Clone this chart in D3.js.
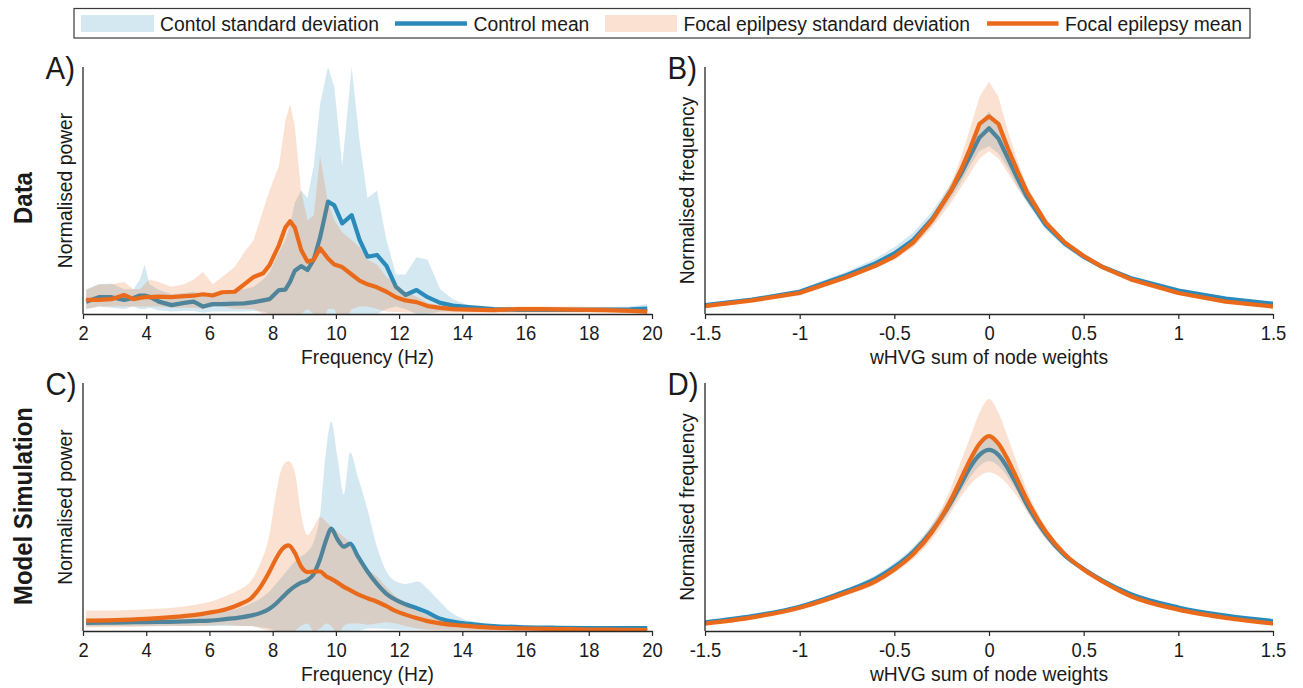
<!DOCTYPE html>
<html>
<head>
<meta charset="utf-8">
<script src="https://cdn.jsdelivr.net/npm/d3@7"></script>
<style>
    body { margin: 0; background: #fff; }
    text { font-family: 'Liberation Sans', Arial, sans-serif; fill: #1a1a1a; }
</style>
</head>
<body>
<div id="chart"></div>
<script>
// legend entries
const LEGEND_LABELS = [
    'Contol standard deviation',
    'Control mean',
    'Focal epilpesy standard deviation',
    'Focal epilepsy mean'
];

// x tick values
const FREQ_TICKS = [2, 4, 6, 8, 10, 12, 14, 16, 18, 20];
const WHVG_TICKS = [-1.5, -1, -0.5, 0, 0.5, 1, 1.5];

// A) data spectra
const FREQ_A = [2.1, 2.5, 2.9, 3.3, 3.6, 3.8, 3.95, 4.1, 4.4, 4.8, 5.2, 5.5, 5.8, 6.1, 6.4, 6.8, 7.1, 7.4, 7.7, 7.9,
    8.2, 8.4, 8.55, 8.7, 8.9, 9.1, 9.3, 9.5, 9.75, 9.95, 10.2, 10.5, 10.75, 11.0, 11.3, 11.6, 11.9, 12.2, 12.55, 12.9,
    13.3, 13.7, 14.2, 15, 15.8, 16.5, 17.5, 18.5, 19.3, 19.85];
const CTRL_MEAN_A = [0.05, 0.068, 0.068, 0.057, 0.065, 0.075, 0.075, 0.07, 0.05, 0.036, 0.045, 0.05, 0.03, 0.04, 0.04, 0.042, 0.043, 0.048, 0.055, 0.06,
    0.097, 0.099, 0.13, 0.175, 0.194, 0.178, 0.22, 0.31, 0.455, 0.44, 0.367, 0.4, 0.3, 0.232, 0.239, 0.195, 0.11, 0.077, 0.097, 0.068,
    0.045, 0.034, 0.028, 0.02, 0.017, 0.017, 0.017, 0.018, 0.019, 0.022];
const CTRL_HI_A = [0.1, 0.12, 0.123, 0.1, 0.1, 0.14, 0.2, 0.12, 0.097, 0.08, 0.085, 0.09, 0.08, 0.085, 0.09, 0.095, 0.1, 0.11, 0.14, 0.17,
    0.25, 0.3, 0.36, 0.45, 0.5, 0.47, 0.6, 0.85, 1.0, 0.92, 0.6, 1.0, 0.7, 0.47, 0.5, 0.3, 0.16, 0.16, 0.23, 0.22,
    0.1, 0.06, 0.035, 0.025, 0.025, 0.025, 0.025, 0.028, 0.03, 0.04];
const CTRL_LO_A = [0.02, 0.03, 0.025, 0.02, 0.03, 0.02, 0.02, 0.025, 0.015, 0.01, 0.012, 0.012, 0.005, 0.01, 0.01, 0.01, 0.01, 0.012, 0.01, 0.0,
    0.0, -0.02, -0.03, -0.05, -0.08, -0.05, -0.08, -0.1, -0.08, -0.05, 0.0, -0.05, 0.0, 0.0, 0.0, 0.02, 0.03, 0.02, 0.0, 0.0,
    0.01, 0.01, 0.01, 0.008, 0.008, 0.008, 0.008, 0.008, 0.008, 0.008];
const FOC_MEAN_A = [0.057, 0.057, 0.06, 0.077, 0.06, 0.065, 0.068, 0.068, 0.07, 0.068, 0.072, 0.074, 0.08, 0.075, 0.088, 0.09, 0.12, 0.15, 0.165, 0.198,
    0.279, 0.35, 0.376, 0.35, 0.26, 0.212, 0.22, 0.266, 0.225, 0.2, 0.19, 0.16, 0.135, 0.12, 0.108, 0.09, 0.068, 0.055, 0.048, 0.032,
    0.025, 0.02, 0.018, 0.016, 0.02, 0.02, 0.018, 0.016, 0.013, 0.01];
const FOC_HI_A = [0.097, 0.12, 0.12, 0.13, 0.1, 0.1, 0.12, 0.14, 0.13, 0.11, 0.12, 0.14, 0.17, 0.12, 0.15, 0.19, 0.25, 0.3, 0.42, 0.5,
    0.6, 0.78, 0.85, 0.76, 0.5, 0.38, 0.4, 0.64, 0.45, 0.38, 0.33, 0.3, 0.27, 0.22, 0.2, 0.15, 0.12, 0.09, 0.07, 0.045,
    0.035, 0.03, 0.025, 0.025, 0.03, 0.03, 0.03, 0.028, 0.022, 0.018];
const FOC_LO_A = [0.02, 0.03, 0.03, 0.03, 0.03, 0.03, 0.03, 0.03, 0.03, 0.025, 0.025, 0.025, 0.02, 0.03, 0.03, 0.02, 0.02, 0.02, 0.0, 0.0,
    -0.03, -0.05, -0.06, -0.03, 0.0, 0.02, 0.0, -0.05, 0.02, 0.02, -0.05, 0.02, 0.03, 0.03, 0.02, 0.01, 0.008, 0.006, 0.005, 0.005,
    0.005, 0.005, 0.005, 0.005, 0.005, 0.005, 0.005, 0.005, 0.005, 0.005];

// C) model spectra
const FREQ_C = [2.1, 3, 4, 5, 5.5, 6, 6.5, 7, 7.3, 7.6, 7.9, 8.1, 8.3, 8.5, 8.7, 8.9, 9.1, 9.3, 9.5, 9.7, 9.85,
    10.05, 10.25, 10.45, 10.7, 11.0, 11.3, 11.6, 11.9, 12.2, 12.6, 12.9, 13.2, 13.6, 14, 14.5, 15, 16, 17, 18, 19, 19.85];
const CTRL_MEAN_C = [0.033, 0.034, 0.036, 0.038, 0.04, 0.042, 0.048, 0.055, 0.062, 0.072, 0.09, 0.11, 0.135, 0.16, 0.18, 0.195, 0.205, 0.23, 0.29, 0.37, 0.413,
    0.37, 0.34, 0.352, 0.3, 0.24, 0.19, 0.15, 0.125, 0.108, 0.09, 0.075, 0.055, 0.04, 0.032, 0.025, 0.02, 0.015, 0.013, 0.012, 0.012, 0.012];
const CTRL_HI_C = [0.05, 0.052, 0.055, 0.06, 0.065, 0.07, 0.08, 0.095, 0.11, 0.13, 0.16, 0.19, 0.22, 0.25, 0.28, 0.3, 0.32, 0.36, 0.47, 0.74, 0.845,
    0.7, 0.55, 0.72, 0.62, 0.49, 0.34, 0.24, 0.2, 0.19, 0.2, 0.17, 0.13, 0.08, 0.05, 0.035, 0.025, 0.02, 0.018, 0.016, 0.016, 0.016];
const CTRL_LO_C = [0.018, 0.02, 0.02, 0.02, 0.02, 0.02, 0.02, 0.02, 0.02, 0.015, 0.01, 0.0, -0.01, -0.02, -0.05, -0.06, -0.02, -0.03, 0.0, -0.02, -0.03,
    0.0, -0.02, 0.0, 0.0, 0.01, 0.01, 0.008, 0.006, 0.005, 0.005, 0.005, 0.005, 0.005, 0.005, 0.005, 0.005, 0.005, 0.005, 0.005, 0.005, 0.005];
const FOC_MEAN_C = [0.042, 0.044, 0.049, 0.058, 0.064, 0.074, 0.087, 0.11, 0.13, 0.175, 0.24, 0.29, 0.33, 0.345, 0.315, 0.26, 0.238, 0.24, 0.24, 0.22, 0.21,
    0.195, 0.178, 0.165, 0.148, 0.132, 0.118, 0.1, 0.08, 0.066, 0.05, 0.04, 0.033, 0.026, 0.022, 0.017, 0.013, 0.01, 0.008, 0.006, 0.005, 0.004];
const FOC_HI_C = [0.083, 0.083, 0.088, 0.096, 0.105, 0.117, 0.14, 0.17, 0.2, 0.27, 0.39, 0.55, 0.66, 0.685, 0.64, 0.47, 0.386, 0.42, 0.46, 0.44, 0.42,
    0.4, 0.38, 0.355, 0.31, 0.25, 0.22, 0.177, 0.14, 0.115, 0.08, 0.065, 0.05, 0.035, 0.028, 0.022, 0.018, 0.014, 0.012, 0.01, 0.009, 0.008];
const FOC_LO_C = [0.015, 0.015, 0.018, 0.02, 0.02, 0.022, 0.025, 0.02, 0.02, 0.01, 0.0, -0.01, -0.02, -0.02, 0.0, 0.02, 0.03, 0.0, 0.01, 0.03, 0.02,
    -0.01, 0.02, 0.03, 0.03, 0.025, 0.03, 0.035, 0.03, 0.02, 0.01, 0.005, 0.003, 0.002, 0.002, 0.002, 0.002, 0.002, 0.002, 0.002, 0.002, 0.002];

// B) data wHVG distributions
const WHVG_B = [-1.5, -1.25, -1.0, -0.75, -0.6, -0.5, -0.4, -0.3, -0.2, -0.15, -0.1, -0.05, 0,
    0.05, 0.1, 0.15, 0.2, 0.3, 0.4, 0.5, 0.6, 0.75, 1.0, 1.25, 1.5];
const CTRL_MEAN_B = [0.036, 0.058, 0.09, 0.158, 0.205, 0.245, 0.3, 0.385, 0.5, 0.565, 0.64, 0.715, 0.752,
    0.71, 0.63, 0.55, 0.475, 0.36, 0.285, 0.232, 0.19, 0.145, 0.095, 0.062, 0.042];
const CTRL_HI_B = [0.042, 0.066, 0.1, 0.172, 0.225, 0.27, 0.33, 0.415, 0.53, 0.6, 0.68, 0.77, 0.82,
    0.77, 0.67, 0.585, 0.5, 0.38, 0.3, 0.245, 0.2, 0.155, 0.104, 0.07, 0.048];
const CTRL_LO_B = [0.03, 0.05, 0.08, 0.145, 0.19, 0.225, 0.275, 0.36, 0.47, 0.53, 0.6, 0.66, 0.68,
    0.65, 0.59, 0.515, 0.45, 0.34, 0.27, 0.22, 0.18, 0.135, 0.086, 0.055, 0.036];
const FOC_MEAN_B = [0.032, 0.055, 0.085, 0.15, 0.195, 0.232, 0.29, 0.38, 0.5, 0.58, 0.67, 0.77, 0.8,
    0.77, 0.67, 0.58, 0.495, 0.37, 0.29, 0.235, 0.19, 0.14, 0.085, 0.05, 0.03];
const FOC_HI_B = [0.04, 0.063, 0.095, 0.16, 0.205, 0.245, 0.3, 0.39, 0.53, 0.63, 0.75, 0.88, 0.94,
    0.88, 0.74, 0.62, 0.52, 0.385, 0.3, 0.245, 0.2, 0.15, 0.093, 0.058, 0.036];
const FOC_LO_B = [0.025, 0.047, 0.076, 0.14, 0.185, 0.22, 0.27, 0.35, 0.45, 0.51, 0.57, 0.63, 0.66,
    0.63, 0.57, 0.51, 0.455, 0.355, 0.28, 0.225, 0.18, 0.13, 0.077, 0.043, 0.025];

// D) model wHVG distributions
const WHVG_D = WHVG_B;
const CTRL_MEAN_D = [0.035, 0.06, 0.098, 0.162, 0.21, 0.258, 0.32, 0.405, 0.52, 0.59, 0.66, 0.71, 0.73,
    0.71, 0.655, 0.585, 0.51, 0.39, 0.305, 0.25, 0.203, 0.148, 0.095, 0.062, 0.04];
const CTRL_HI_D = [0.04, 0.066, 0.105, 0.172, 0.225, 0.275, 0.34, 0.43, 0.55, 0.625, 0.7, 0.755, 0.775,
    0.755, 0.69, 0.61, 0.53, 0.405, 0.315, 0.26, 0.21, 0.155, 0.1, 0.066, 0.043];
const CTRL_LO_D = [0.03, 0.054, 0.091, 0.152, 0.197, 0.243, 0.302, 0.385, 0.495, 0.56, 0.62, 0.665, 0.685,
    0.665, 0.62, 0.56, 0.49, 0.375, 0.295, 0.24, 0.196, 0.141, 0.09, 0.058, 0.037];
const FOC_MEAN_D = [0.03, 0.055, 0.094, 0.155, 0.2, 0.248, 0.31, 0.4, 0.53, 0.61, 0.69, 0.755, 0.786,
    0.755, 0.69, 0.61, 0.53, 0.4, 0.31, 0.248, 0.2, 0.14, 0.086, 0.053, 0.03];
const FOC_HI_D = [0.037, 0.063, 0.102, 0.165, 0.212, 0.262, 0.33, 0.43, 0.58, 0.68, 0.78, 0.88, 0.935,
    0.88, 0.78, 0.67, 0.57, 0.42, 0.322, 0.258, 0.208, 0.148, 0.093, 0.06, 0.036];
const FOC_LO_D = [0.024, 0.047, 0.086, 0.145, 0.188, 0.234, 0.29, 0.37, 0.48, 0.54, 0.59, 0.625, 0.64,
    0.625, 0.59, 0.54, 0.48, 0.37, 0.295, 0.236, 0.19, 0.132, 0.079, 0.046, 0.024];

const CTRL_COLOR = '#2a8bbb';
const FOC_COLOR = '#ea6a1b';
const AXIS_COLOR = '#262626';
const BAND_OPACITY = 0.2;
const SX = 0.92; // the figure text is slightly condensed

const W = 1303;
const H = 688;

const svg = d3
    .select('#chart')
    .append('svg')
    .attr('width', W)
    .attr('height', H)
    .style('display', 'block');

// text helper: condensed horizontally, optional rotation
const addText = (parent, x, y, str, size, opts = {}) => {
    const rot = opts.rotate ? ' rotate(' + opts.rotate + ')' : '';
    return parent
        .append('text')
        .attr('transform', 'translate(' + x + ',' + y + ')' + rot + ' scale(' + SX + ',1)')
        .attr('text-anchor', opts.anchor || 'start')
        .style('font-size', size + 'px')
        .style('font-weight', opts.bold ? 'bold' : 'normal')
        .text(str);
};

const zip = (xs, mean, lo, hi) =>
    xs.map((x, i) => ({ x: x, mean: mean[i], lo: lo[i], hi: hi[i] }));

let clipId = 0;

const drawPanel = (cfg) => {
    const g = svg.append('g');

    const x = d3.scaleLinear().domain(cfg.xDomain).range([cfg.left, cfg.right]);
    const y = d3.scaleLinear().domain([0, 1]).range([cfg.bottom, cfg.top]);

    const id = 'clip' + clipId++;
    g.append('clipPath')
        .attr('id', id)
        .append('rect')
        .attr('x', cfg.left)
        .attr('y', cfg.top)
        .attr('width', cfg.right - cfg.left)
        .attr('height', cfg.bottom - cfg.top);

    const plot = g.append('g').attr('clip-path', 'url(#' + id + ')');

    const area = d3
        .area()
        .x((d) => x(d.x))
        .y0((d) => y(d.lo))
        .y1((d) => y(d.hi))
        .curve(cfg.curve);
    const line = d3
        .line()
        .x((d) => x(d.x))
        .y((d) => y(d.mean))
        .curve(cfg.curve);

    const groups = [
        { data: cfg.ctrl, color: CTRL_COLOR },
        { data: cfg.foc, color: FOC_COLOR }
    ];
    groups.forEach((s) => {
        plot.append('path')
            .datum(s.data)
            .attr('d', area)
            .attr('fill', s.color)
            .attr('fill-opacity', BAND_OPACITY)
            .attr('stroke', 'none');
        plot.append('path')
            .datum(s.data)
            .attr('d', line)
            .attr('fill', 'none')
            .attr('stroke', s.color)
            .attr('stroke-width', 4.2)
            .attr('stroke-linejoin', 'round');
    });

    // x axis
    const xAxis = d3
        .axisBottom(x)
        .tickValues(cfg.ticks)
        .tickSize(5)
        .tickSizeOuter(0)
        .tickFormat((d) => String(d));
    const ax = g
        .append('g')
        .attr('transform', 'translate(0,' + cfg.bottom + ')')
        .call(xAxis);
    ax.select('.domain').attr('stroke', AXIS_COLOR).attr('stroke-width', 1.3);
    ax.selectAll('.tick line').attr('stroke', AXIS_COLOR).attr('stroke-width', 1.2);
    ax.selectAll('.tick text')
        .attr('y', 26.5)
        .attr('dy', 0)
        .attr('transform', 'scale(' + SX + ',1)')
        .style('font-size', '20px')
        .style('font-family', "'Liberation Sans', Arial, sans-serif")
        .attr('fill', '#1a1a1a');

    // y axis: bare line
    g.append('line')
        .attr('x1', cfg.left)
        .attr('x2', cfg.left)
        .attr('y1', cfg.top)
        .attr('y2', cfg.bottom)
        .attr('stroke', AXIS_COLOR)
        .attr('stroke-width', 1.3);

    addText(g, (cfg.left + cfg.right) / 2, cfg.bottom + 50, cfg.xlabel, 21, { anchor: 'middle' });
    addText(g, cfg.left - 11.5, (cfg.top + cfg.bottom) / 2, cfg.ylabel, 21, {
        anchor: 'middle',
        rotate: -90
    });
    addText(g, cfg.left - 37.5, cfg.top + 11.5, cfg.letter, 32);
};

const rows = [
    { top: 67, bottom: 314 },
    { top: 383, bottom: 631 }
];
const cols = [
    { left: 83, right: 652 },
    { left: 705, right: 1273 }
];

drawPanel({
    ...rows[0], ...cols[0],
    xDomain: [2, 20], ticks: FREQ_TICKS, curve: d3.curveLinear,
    ctrl: zip(FREQ_A, CTRL_MEAN_A, CTRL_LO_A, CTRL_HI_A),
    foc: zip(FREQ_A, FOC_MEAN_A, FOC_LO_A, FOC_HI_A),
    xlabel: 'Frequency (Hz)', ylabel: 'Normalised power', letter: 'A)'
});
drawPanel({
    ...rows[0], ...cols[1],
    xDomain: [-1.5, 1.5], ticks: WHVG_TICKS, curve: d3.curveLinear,
    ctrl: zip(WHVG_B, CTRL_MEAN_B, CTRL_LO_B, CTRL_HI_B),
    foc: zip(WHVG_B, FOC_MEAN_B, FOC_LO_B, FOC_HI_B),
    xlabel: 'wHVG sum of node weights', ylabel: 'Normalised frequency', letter: 'B)'
});
drawPanel({
    ...rows[1], ...cols[0],
    xDomain: [2, 20], ticks: FREQ_TICKS, curve: d3.curveMonotoneX,
    ctrl: zip(FREQ_C, CTRL_MEAN_C, CTRL_LO_C, CTRL_HI_C),
    foc: zip(FREQ_C, FOC_MEAN_C, FOC_LO_C, FOC_HI_C),
    xlabel: 'Frequency (Hz)', ylabel: 'Normalised power', letter: 'C)'
});
drawPanel({
    ...rows[1], ...cols[1],
    xDomain: [-1.5, 1.5], ticks: WHVG_TICKS, curve: d3.curveMonotoneX,
    ctrl: zip(WHVG_D, CTRL_MEAN_D, CTRL_LO_D, CTRL_HI_D),
    foc: zip(WHVG_D, FOC_MEAN_D, FOC_LO_D, FOC_HI_D),
    xlabel: 'wHVG sum of node weights', ylabel: 'Normalised frequency', letter: 'D)'
});

// row titles
addText(svg, 32, 198, 'Data', 26, { anchor: 'middle', rotate: -90, bold: true });
addText(svg, 32, 506, 'Model Simulation', 26, { anchor: 'middle', rotate: -90, bold: true });

// legend
const legend = svg.append('g');
legend.append('rect')
    .attr('x', 74)
    .attr('y', 8.5)
    .attr('width', 1176)
    .attr('height', 29.5)
    .attr('fill', '#fff')
    .attr('stroke', '#3a3a3a')
    .attr('stroke-width', 1.2);

const legendItems = [
    { type: 'band', color: CTRL_COLOR, x0: 81, x1: 154, tx: 160 },
    { type: 'line', color: CTRL_COLOR, x0: 395, x1: 467, tx: 473.5 },
    { type: 'band', color: FOC_COLOR, x0: 605, x1: 677, tx: 683.5 },
    { type: 'line', color: FOC_COLOR, x0: 987, x1: 1058.5, tx: 1065 }
];
legendItems.forEach((item, i) => {
    if (item.type === 'band') {
        legend.append('rect')
            .attr('x', item.x0)
            .attr('y', 15)
            .attr('width', item.x1 - item.x0)
            .attr('height', 17)
            .attr('fill', item.color)
            .attr('fill-opacity', BAND_OPACITY);
    } else {
        legend.append('line')
            .attr('x1', item.x0)
            .attr('x2', item.x1)
            .attr('y1', 23.5)
            .attr('y2', 23.5)
            .attr('stroke', item.color)
            .attr('stroke-width', 4.5);
    }
    addText(legend, item.tx, 31, LEGEND_LABELS[i], 21);
});
</script>
</body>
</html>
